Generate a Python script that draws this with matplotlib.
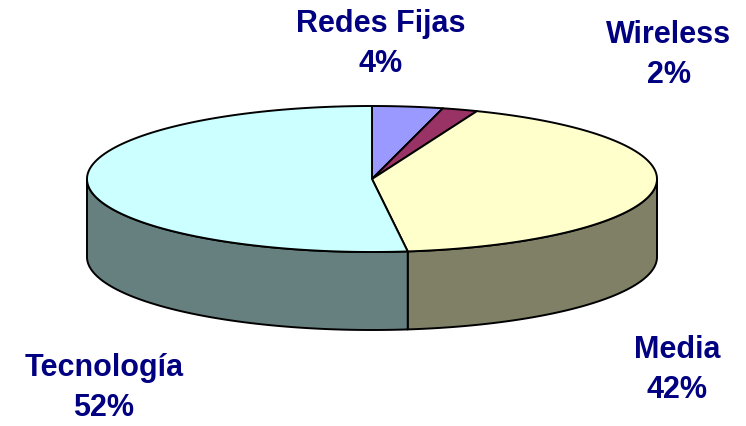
import numpy as np
import matplotlib.pyplot as plt
from matplotlib.patches import Polygon

labels = ['Redes Fijas', 'Wireless', 'Media', 'Tecnología']
values = [4, 2, 42, 52]
colors = ['#9999FF', '#993366', '#FFFFCC', '#CCFFFF']
label_pos = [(381, 44), (669, 55), (677, 370), (104, 388)]

# geometria del pastel (pixeles)
cx, cy = 372, 180
a, b = 285, 73
depth = 78

plt.rcParams['font.family'] = ['Liberation Sans', 'DejaVu Sans']
fig = plt.figure(figsize=(7.46, 4.27), dpi=100)
ax = fig.add_axes([0, 0, 1, 1])
ax.set_xlim(0, 746)
ax.set_ylim(427, 0)
ax.axis('off')


def pt(t, dy=0):
    t = np.radians(t)
    return cx + a * np.cos(t), cy - b * np.sin(t) + dy


def darker(c, f=0.5):
    c = c.lstrip('#')
    rgb = [int(c[i:i+2], 16) / 255 * f for i in (0, 2, 4)]
    return rgb


# angulos de cada porcion (sentido horario desde las 12)
total = sum(values)
starts = []
ang = 90
for v in values:
    t2 = ang
    t1 = ang - v / total * 360
    starts.append((t1, t2))
    ang = t1

# paredes laterales (solo mitad frontal)
for (t1, t2), col in zip(starts, colors):
    for k in (-1, 0):
        lo = max(t1, k * 360 - 180)
        hi = min(t2, k * 360)
        if hi <= lo:
            continue
        ts = np.linspace(lo, hi, 100)
        top = [pt(t) for t in ts]
        bot = [pt(t, depth) for t in ts[::-1]]
        ax.add_patch(Polygon(top + bot, closed=True, facecolor=darker(col),
                             edgecolor='black', lw=1.4, joinstyle='round'))

# cara superior
for (t1, t2), col in zip(starts, colors):
    ts = np.linspace(t1, t2, 200)
    poly = [(cx, cy)] + [pt(t) for t in ts]
    ax.add_patch(Polygon(poly, closed=True, facecolor=col,
                         edgecolor='black', lw=1.4, joinstyle='round'))

for lab, v, (x, y) in zip(labels, values, label_pos):
    ax.text(x, y, f'{lab}\n{v}%', ha='center', va='center', color='#000080',
            fontsize=22, fontweight='bold', linespacing=1.45)

fig.savefig('out.png', dpi=100)
